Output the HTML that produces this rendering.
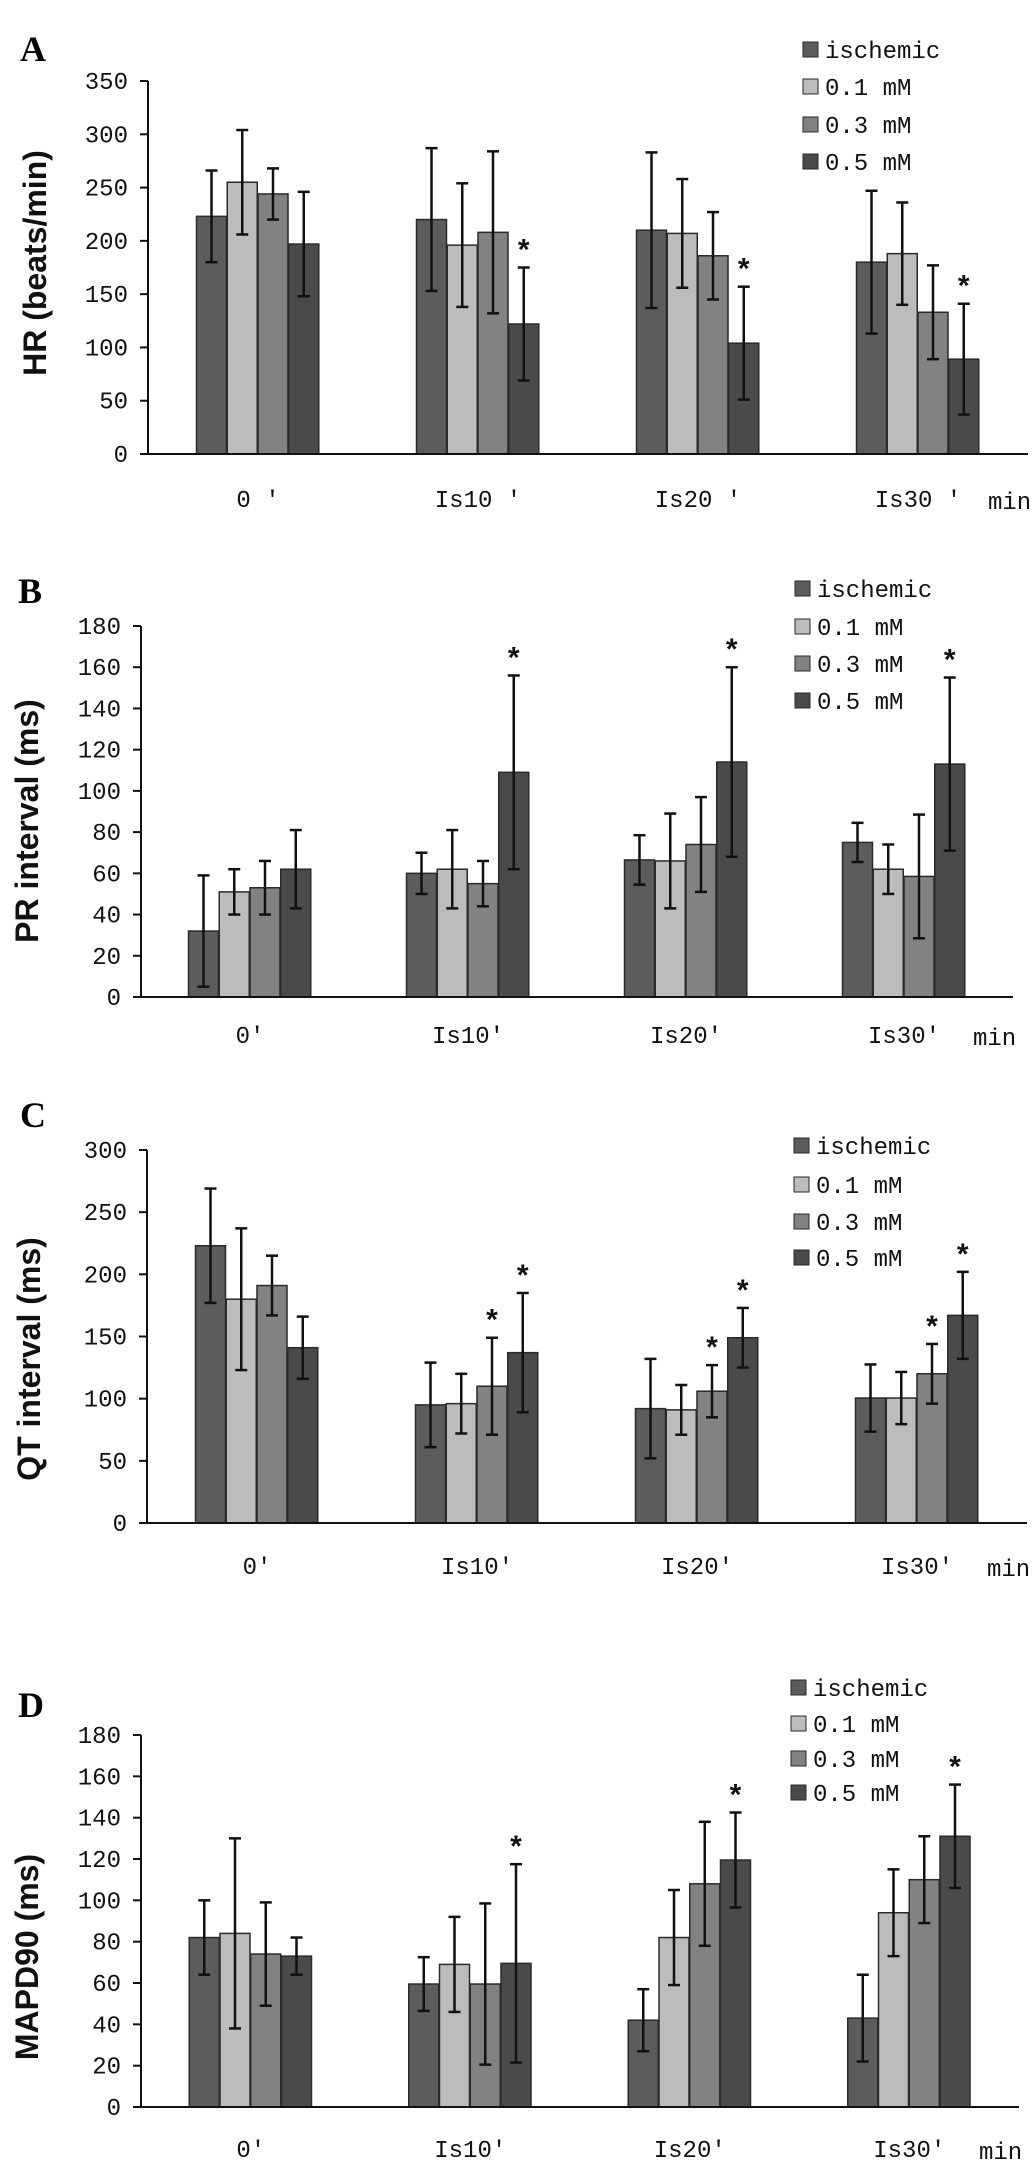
<!DOCTYPE html>
<html><head><meta charset="utf-8"><style>
html,body{margin:0;padding:0;background:#fff;}
svg{display:block;}
.tick{font-family:"Liberation Mono",monospace;font-size:24px;fill:#111;}
.xl{font-family:"Liberation Mono",monospace;font-size:24px;fill:#111;}
.leg{font-family:"Liberation Mono",monospace;font-size:24px;fill:#111;}
.yt{font-family:"Liberation Sans",sans-serif;font-weight:bold;font-size:32px;fill:#111;}
.pl{font-family:"Liberation Serif",serif;font-weight:bold;font-size:36px;fill:#000;}
.star{font-family:"Liberation Sans",sans-serif;font-weight:bold;font-size:30px;fill:#111;}
</style></head><body>
<svg id="fig" width="1033" height="2173" viewBox="0 0 1033 2173" xmlns="http://www.w3.org/2000/svg"></svg>
<script>
const categories = ["0′","Is10′","Is20′","Is30′"];
const categoriesA = ["0 ′","Is10 ′","Is20 ′","Is30 ′"];
const seriesNames = ["ischemic","0.1 mM","0.3 mM","0.5 mM"];
const seriesColors = ["#5c5c5c","#bcbcbc","#828282","#4a4a4a"];

const hrMeans = [[223,220,210,180],[255,196,207,188],[244,208,186,133],[197,122,104,89]];
const hrSD = [[43,67,73,67],[49,58,51,48],[24,76,41,44],[49,53,53,52]];
const hrStars = [[0,0,0,0],[0,0,0,0],[0,0,0,0],[0,1,1,1]];
const hrTicks = [0,50,100,150,200,250,300,350];

const prMeans = [[32,60,66.5,75],[51,62,66,62],[53,55,74,58.5],[62,109,114,113]];
const prSD = [[27,10,12,9.5],[11,19,23,12],[13,11,23,30],[19,47,46,42]];
const prStars = [[0,0,0,0],[0,0,0,0],[0,0,0,0],[0,1,1,1]];
const prTicks = [0,20,40,60,80,100,120,140,160,180];

const qtMeans = [[223,95,92,100.5],[180,96,91,100.5],[191,110,106,120],[141,137,149,167]];
const qtSD = [[46,34,40,27],[57,24,20,21],[24,39,21,24],[25,48,24,35]];
const qtStars = [[0,0,0,0],[0,0,0,0],[0,1,1,1],[0,1,1,1]];
const qtTicks = [0,50,100,150,200,250,300];

const mapdMeans = [[82,59.5,42,43],[84,69,82,94],[74,59.5,108,110],[73,69.5,119.5,131]];
const mapdSD = [[18,13,15,21],[46,23,23,21],[25,39,30,21],[9,48,23,25]];
const mapdStars = [[0,0,0,0],[0,0,0,0],[0,0,0,0],[0,1,1,1]];
const mapdTicks = [0,20,40,60,80,100,120,140,160,180];

const svg = document.getElementById('fig');
const NS = "http://www.w3.org/2000/svg";
function mk(tag, attrs, parent){
  const e = document.createElementNS(NS, tag);
  for (const k in attrs) e.setAttribute(k, attrs[k]);
  (parent||svg).appendChild(e);
  return e;
}

const panels = [
 {id:'a', letter:'A', lx:20, ly:61, title:'HR (beats/min)', tx:35, ty:263, x0:148, y0:454, yTop:81, max:350, catW:220, labY:507, legX:803, legY:[50,87,125,162], means:hrMeans, sd:hrSD, stars:hrStars, ticks:hrTicks, cats:categoriesA},
 {id:'b', letter:'B', lx:18, ly:603, title:'PR interval (ms)', tx:27, ty:821, x0:141, y0:997, yTop:626, max:180, catW:218, labY:1043, legX:795, legY:[589,627,664,701], means:prMeans, sd:prSD, stars:prStars, ticks:prTicks, cats:categories},
 {id:'c', letter:'C', lx:20, ly:1127, title:'QT interval (ms)', tx:29, ty:1359, x0:147, y0:1523, yTop:1150, max:300, catW:220, labY:1574, legX:794, legY:[1146,1185,1222,1258], means:qtMeans, sd:qtSD, stars:qtStars, ticks:qtTicks, cats:categories},
 {id:'d', letter:'D', lx:18, ly:1717, title:'MAPD90 (ms)', tx:27, ty:1957, x0:141, y0:2107, yTop:1735, max:180, catW:219.5, labY:2157, legX:791, legY:[1688,1724,1759,1793], means:mapdMeans, sd:mapdSD, stars:mapdStars, ticks:mapdTicks, cats:categories}
];

panels.forEach(p => {
  const g = mk('g', {});
  
  
  const yS = v => p.y0 - (v / p.max) * (p.y0 - p.yTop);
  const xEnd = p.x0 + 4 * p.catW;
  const barW = 30, step = 30.75, pad = (p.catW - 4*step)/2;

  const L = mk('text', {x:p.lx, y:p.ly, class:'pl'}, g);
  L.textContent = p.letter;
  
  

  const T = mk('text', {x:0, y:0, class:'yt', 'text-anchor':'middle', 'dominant-baseline':'central', transform:`translate(${p.tx},${p.ty}) rotate(-90)`}, g);
  T.textContent = p.title;
  
  

  p.means.forEach((ser, s) => {
    ser.forEach((v, c) => {
      const x = p.x0 + c*p.catW + pad + s*step;
      const r = mk('rect', {x:x, y:yS(v), width:barW, height:p.y0 - yS(v), fill:seriesColors[s], stroke:'#2a2a2a', 'stroke-width':1.5}, g);
      
      
    });
  });
  p.means.forEach((ser, s) => {
    ser.forEach((v, c) => {
      const cx = p.x0 + c*p.catW + pad + s*step + barW/2;
      const top = yS(v + p.sd[s][c]), bot = yS(Math.max(0, v - p.sd[s][c]));
      const eg = mk('g', {stroke:'#111', 'stroke-width':2.5}, g);
      
      
      mk('line', {x1:cx, x2:cx, y1:top, y2:bot}, eg);
      mk('line', {x1:cx-6, x2:cx+6, y1:top, y2:top}, eg);
      mk('line', {x1:cx-6, x2:cx+6, y1:bot, y2:bot}, eg);
      if (p.stars[s][c]) {
        const st = mk('text', {x:cx, y:top - 8, class:'star', 'text-anchor':'middle'}, g);
        st.textContent = '*';
        
        
      }
    });
  });

  const ax = mk('g', {stroke:'#111', 'stroke-width':2}, g);
  
  
  mk('line', {x1:p.x0, x2:p.x0, y1:p.yTop, y2:p.y0}, ax);
  mk('line', {x1:p.x0-8, x2:xEnd, y1:p.y0, y2:p.y0}, ax);
  p.ticks.forEach(t => {
    mk('line', {x1:p.x0-8, x2:p.x0, y1:yS(t), y2:yS(t)}, ax);
    const tl = mk('text', {x:p.x0-20, y:yS(t)+8, class:'tick', 'text-anchor':'end'}, g);
    tl.textContent = t;
    
    
  });
  p.cats.forEach((cat, c) => {
    const xl = mk('text', {x:p.x0 + c*p.catW + p.catW/2, y:p.labY, class:'xl', 'text-anchor':'middle'}, g);
    xl.textContent = cat;
    
    
  });
  const mn = mk('text', {x:xEnd - 40, y:p.labY + 2, class:'xl'}, g);
  mn.textContent = 'min';
  
  

  seriesNames.forEach((n, s) => {
    const lg = mk('g', {}, g);
    
    
    mk('rect', {x:p.legX, y:p.legY[s]-8, width:15, height:15, fill:seriesColors[s], stroke:'#2a2a2a', 'stroke-width':1}, lg);
    const lt = mk('text', {x:p.legX+22, y:p.legY[s]+8, class:'leg'}, lg);
    lt.textContent = n;
  });
});
</script>
</body></html>
